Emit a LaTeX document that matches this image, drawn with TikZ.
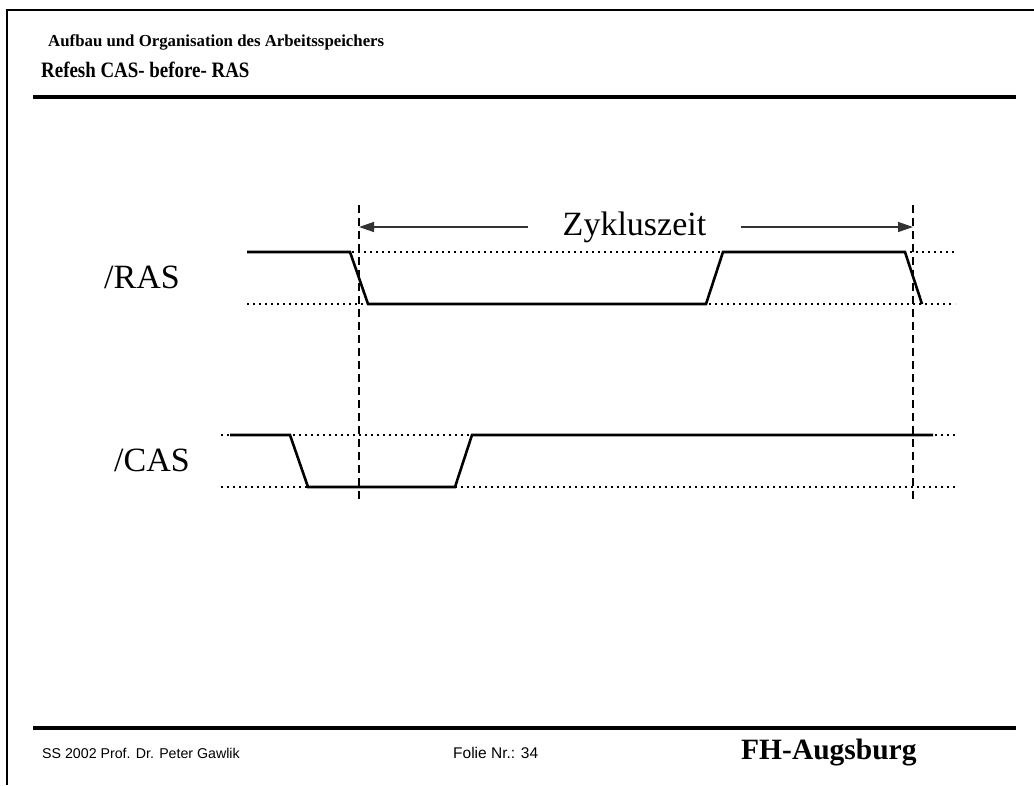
\documentclass[tikz,border=0pt]{standalone}
\usepackage{fontspec}
\setmainfont{Liberation Serif}
\setsansfont{Liberation Sans}
\usetikzlibrary{arrows.meta, positioning, calc}

\begin{document}
\begin{tikzpicture}[x=1pt, y=-1pt,
    signal/.style={line width=2.6pt, line join=miter},
    guide/.style={line width=1.6pt, dash pattern=on 1.8pt off 4.2pt},
    marker/.style={line width=1.8pt, dash pattern=on 8pt off 5pt},
    span/.style={line width=1.4pt, black!80, -{Triangle[length=15pt, width=10pt]}},
    hrule/.style={line width=4pt},
    label/.style={inner sep=0pt, font=\fontsize{34}{40}\selectfont}]
    \useasboundingbox (0,0) rectangle (1034,785);

    % slide frame and header
    \draw[line width=2pt] (7,785) -- (7,10) -- (1034,10);
    \node[inner sep=0pt, anchor=west, font=\bfseries\fontsize{16.8}{20}\selectfont] (subtitle) at (48,42) {Aufbau und Organisation des Arbeitsspeichers};
    \node[inner sep=0pt, anchor=west, font=\bfseries\fontsize{22}{26}\selectfont] (title) at (41,70) {\scalebox{0.86}[1]{Refesh CAS- before- RAS}};
    \draw[hrule] (33,97) -- (1016,97);

    % signal names
    \node[label, anchor=east] (ras) at (180,277) {/RAS};
    \node[label, anchor=east] (cas) at (190,460) {/CAS};

    % level guides
    \draw[guide] (352,252) -- (955,252);
    \draw[guide] (247,304) -- (955,304);
    \draw[guide] (221,435) -- (955,435);
    \draw[guide] (221,487) -- (955,487);

    % waveforms
    \draw[signal] (247,252) -- (350,252) -- (368,304) -- (706,304) -- (723,252) -- (905,252) -- (922,304);
    \draw[signal] (230,435) -- (290,435) -- (308,487) -- (455,487) -- (472,435) -- (933,435);

    % cycle markers
    \coordinate (startTop) at (359,205);
    \coordinate (startBot) at (359,502);
    \coordinate (endTop) at (913,205);
    \coordinate (endBot) at (913,502);
    \draw[marker] (startTop) -- (startBot);
    \draw[marker] (endTop) -- (endBot);

    \node[label, inner xsep=35pt] (cycle) at (634.5,227) {Zykluszeit};
    \draw[span] (cycle.west) -- (cycle.west -| startTop);
    \draw[span] (cycle.east) -- (cycle.east -| endTop);

    % footer
    \draw[hrule] (33,728) -- (1016,728);
    \node[inner sep=0pt, anchor=west, font=\sffamily\fontsize{14.2}{16}\selectfont] (author) at (42,753) {SS 2002 Prof. Dr. Peter Gawlik};
    \node[inner sep=0pt, anchor=west, font=\sffamily\fontsize{15.5}{18}\selectfont] (slideno) at (453,753) {Folie Nr.: 34};
    \node[inner sep=0pt, anchor=west, font=\bfseries\fontsize{29.5}{34}\selectfont] (school) at (741,753) {FH-Augsburg};
\end{tikzpicture}
\end{document}
